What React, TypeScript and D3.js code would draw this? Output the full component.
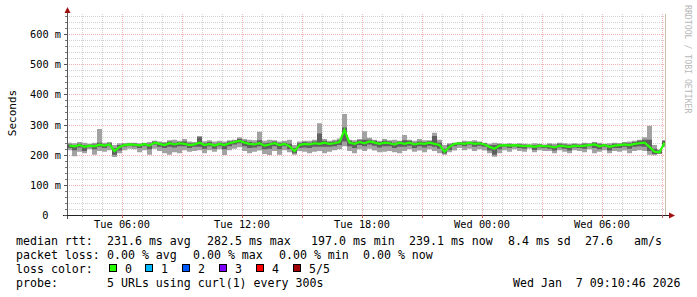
import React from 'react';
import * as d3 from 'd3';

// ---- data (15-minute steps from Tue 03:15) ----
const startTime = new Date(2026, 0, 6, 3, 15);
const endTime = new Date(2026, 0, 7, 9, 9);
const stepMinutes = 15;

const medianRtt = [
  230, 228, 232, 226, 230, 228, 233, 230, 234, 212, 226, 232, 234, 233, 231, 235, 230, 240, 236, 232,
  238, 234, 238, 236, 232, 234, 240, 232, 236, 230, 236, 232, 238, 242, 246, 240, 236, 234, 238, 230,
  234, 238, 232, 236, 228, 212, 232, 236, 234, 238, 236, 240, 236, 238, 242, 282, 240, 236, 242, 238,
  244, 240, 236, 240, 238, 234, 240, 236, 240, 234, 238, 236, 240, 236, 232, 210, 226, 236, 238, 236,
  240, 236, 238, 234, 226, 220, 230, 232, 230, 232, 230, 228, 230, 226, 230, 228, 228, 224, 230, 228,
  226, 230, 228, 230, 232, 234, 228, 232, 226, 230, 232, 234, 232, 236, 238, 240, 226, 210, 208, 240,
];
const minRtt = [
  215, 195, 210, 205, 218, 200, 212, 210, 215, 192, 205, 215, 220, 218, 208, 215, 200, 220, 212, 205,
  200, 208, 205, 215, 210, 212, 215, 205, 215, 210, 218, 199, 215, 220, 225, 212, 205, 210, 214, 202,
  199, 212, 200, 215, 208, 200, 212, 210, 205, 210, 212, 205, 210, 215, 218, 228, 212, 205, 218, 212,
  220, 214, 208, 210, 212, 208, 205, 212, 218, 210, 214, 208, 218, 212, 205, 200, 208, 214, 222, 215,
  220, 212, 218, 214, 205, 193, 205, 215, 210, 218, 212, 210, 220, 208, 215, 212, 212, 205, 215, 210,
  205, 215, 212, 208, 218, 205, 210, 215, 205, 212, 210, 214, 205, 212, 215, 212, 200, 198, 202, 225,
];
const maxRtt = [
  240, 238, 242, 240, 236, 240, 285, 240, 242, 232, 238, 238, 240, 240, 238, 240, 242, 246, 244, 242,
  248, 250, 246, 252, 244, 242, 262, 245, 248, 244, 246, 244, 248, 250, 258, 252, 250, 248, 276, 246,
  250, 248, 244, 246, 250, 232, 244, 246, 246, 250, 304, 252, 246, 250, 254, 335, 250, 248, 252, 278,
  256, 250, 246, 252, 248, 250, 246, 265, 250, 246, 252, 248, 248, 273, 250, 232, 238, 240, 242, 246,
  244, 248, 244, 240, 236, 240, 238, 236, 238, 236, 238, 236, 234, 238, 236, 234, 238, 236, 240, 238,
  236, 238, 236, 240, 238, 242, 240, 236, 238, 240, 238, 242, 244, 246, 250, 258, 296, 232, 218, 248,
];
const innerLow = [
  222, 215, 224, 212, 225, 218, 226, 222, 228, 200, 214, 226, 230, 227, 222, 228, 218, 234, 226, 222,
  226, 224, 228, 228, 222, 226, 226, 220, 228, 220, 228, 218, 228, 234, 238, 228, 222, 224, 228, 218,
  220, 228, 218, 228, 218, 205, 222, 224, 222, 226, 226, 226, 226, 228, 232, 244, 228, 222, 232, 228,
  234, 230, 224, 228, 228, 222, 226, 226, 230, 222, 228, 224, 230, 226, 220, 204, 216, 228, 232, 228,
  234, 226, 230, 226, 214, 200, 218, 226, 222, 227, 222, 220, 226, 216, 224, 222, 220, 214, 224, 220,
  214, 224, 222, 220, 228, 222, 218, 226, 214, 222, 222, 226, 220, 226, 228, 226, 212, 202, 204, 232,
];
const innerHigh = [
  234, 232, 236, 232, 233, 234, 240, 235, 238, 222, 232, 236, 237, 237, 235, 238, 236, 244, 240, 238,
  244, 240, 242, 244, 238, 238, 258, 238, 242, 236, 240, 238, 244, 246, 252, 246, 242, 240, 248, 238,
  240, 244, 238, 240, 236, 222, 238, 242, 240, 244, 270, 246, 242, 244, 248, 290, 246, 242, 248, 250,
  250, 246, 242, 246, 244, 240, 244, 248, 246, 240, 244, 242, 245, 262, 240, 220, 234, 239, 241, 241,
  243, 242, 242, 238, 232, 232, 235, 235, 235, 235, 235, 233, 233, 232, 234, 232, 234, 230, 236, 234,
  232, 235, 233, 236, 236, 240, 235, 235, 232, 236, 236, 240, 238, 242, 246, 250, 250, 220, 214, 246,
];

const yTicks = [0, 100, 200, 300, 400, 500, 600];
const xTickTimes = [
  new Date(2026, 0, 6, 6), new Date(2026, 0, 6, 12), new Date(2026, 0, 6, 18),
  new Date(2026, 0, 7, 0), new Date(2026, 0, 7, 6),
];
const lossColors = ['#26ff00', '#00b8ff', '#0059ff', '#7e00ff', '#ff0000', '#a10000'];
const lossLabels = ['0', '1', '2', '3', '4', '5/5'];

const W = 697;
const H = 297;
const MONO = '"DejaVu Sans Mono", monospace';

type Pt = { t: Date; med: number; lo: number; hi: number; ilo: number; ihi: number };

export default function App() {
  const x = d3.scaleTime().domain([startTime, endTime]).range([67, 665]);
  const y = d3.scaleLinear().domain([0, 666.7]).range([215, 14]);

  const pts: Pt[] = medianRtt.map((m, i) => ({
    t: d3.timeMinute.offset(startTime, i * stepMinutes),
    med: m,
    lo: minRtt[i],
    hi: maxRtt[i],
    ilo: innerLow[i],
    ihi: innerHigh[i],
  }));
  const last = pts[pts.length - 1];
  const stepPts = [...pts, { ...last, t: endTime }];

  const outerArea = d3.area<Pt>().x(d => x(d.t)).y0(d => y(d.lo)).y1(d => y(d.hi)).curve(d3.curveStepAfter);
  const innerArea = d3.area<Pt>().x(d => x(d.t)).y0(d => y(d.ilo)).y1(d => y(d.ihi)).curve(d3.curveStepAfter);
  const medLine = d3.line<Pt>().x(d => x(d.t) + 2.5).y(d => y(d.med));

  const px = (v: number) => Math.round(v) + 0.5;

  const minorY = d3.range(20, 661, 20).filter(v => v % 100 !== 0);
  const majorY = d3.range(100, 661, 100);
  const hours = d3.timeHour.range(d3.timeHour.ceil(startTime), endTime);
  const minorX = hours.filter(h => h.getHours() % 3 !== 0);
  const majorX = hours.filter(h => h.getHours() % 3 === 0);
  const fmt = d3.timeFormat('%a %H:%M');

  const gridTop = 14;
  const gridBottom = 215;

  const legendY = [244.5, 258.5, 272.5, 286.5];
  const lfs = 11.6;
  const T = (props: any) => <text xmlSpace="preserve" {...props} />;

  return (
    <svg width={W} height={H} style={{ position: 'absolute', left: 0, top: 0, background: '#fff' }}
      fontFamily={MONO}>
      <rect x={0} y={0} width={W} height={H} fill="#ffffff" />
      {/* minor grid */}
      {minorY.map(v => (
        <line key={'my' + v} x1={67} x2={665} y1={px(y(v))} y2={px(y(v))}
          stroke="#d2d2d2" strokeDasharray="1,1" />
      ))}
      {minorX.map(h => (
        <line key={'mx' + h.getTime()} x1={px(x(h))} x2={px(x(h))} y1={gridTop} y2={gridBottom}
          stroke="#d2d2d2" strokeDasharray="1,1" />
      ))}
      {/* major grid */}
      {majorY.map(v => (
        <line key={'My' + v} x1={67} x2={665} y1={px(y(v))} y2={px(y(v))}
          stroke="#f3b0b0" strokeDasharray="1,1" />
      ))}
      {majorX.map(h => (
        <line key={'Mx' + h.getTime()} x1={px(x(h))} x2={px(x(h))} y1={gridTop} y2={gridBottom}
          stroke="#f3b0b0" strokeDasharray="1,1" />
      ))}

      {/* smoke */}
      <path d={outerArea(stepPts) || ''} fill="#a2a2a2" />
      <path d={innerArea(stepPts) || ''} fill="#606060" />
      {/* median */}
      <path d={medLine(pts) || ''} fill="none" stroke={lossColors[0]} strokeWidth={2.2} />

      {/* right edge rule */}
      <line x1={665.5} x2={665.5} y1={14} y2={215} stroke="#cbbca6" />

      {/* axes */}
      <line x1={67.5} x2={67.5} y1={11} y2={219} stroke="#555" />
      <line x1={63} x2={670} y1={215.5} y2={215.5} stroke="#222" />
      {majorY.concat([0]).map(v => (
        <line key={'ty' + v} x1={64} x2={67} y1={px(y(v))} y2={px(y(v))} stroke="#555" />
      ))}
      {minorY.map(v => (
        <line key={'tmy' + v} x1={65} x2={67} y1={px(y(v))} y2={px(y(v))} stroke="#777" />
      ))}
      {majorX.map(h => (
        <line key={'tx' + h.getTime()} x1={px(x(h))} x2={px(x(h))} y1={215} y2={218} stroke="#c06060" />
      ))}
      {minorX.map(h => (
        <line key={'tmx' + h.getTime()} x1={px(x(h))} x2={px(x(h))} y1={215} y2={217} stroke="#777" />
      ))}
      <path d="M64.5,13 L70.5,13 L67.5,7 Z" fill="#a01010" />
      <path d="M669,212.5 L669,218.5 L675,215.5 Z" fill="#a01010" />

      {/* y labels */}
      {yTicks.map(v => (
        <text key={'yl' + v} x={v === 0 ? 48.5 : 61} y={px(y(v)) + 3.5} fontSize={10.3} textAnchor="end"
          fill="#000">{v === 0 ? '0' : `${v} m`}</text>
      ))}
      {/* x labels */}
      {xTickTimes.map(t => (
        <text key={'xl' + t.getTime()} x={x(t)} y={228} fontSize={10.3} textAnchor="middle" fill="#000">
          {fmt(t)}
        </text>
      ))}

      {/* axis title */}
      <text transform="translate(15.5,113) rotate(-90)" fontSize={11} textAnchor="middle" fill="#000">Seconds</text>
      {/* watermark */}
      <text transform="translate(684.5,5) rotate(90)" fontSize={8.2} fill="#b8b8b8">RRDTOOL / TOBI OETIKER</text>

      {/* legend */}
      <g fontSize={lfs} fill="#000">
        <T x={16} y={legendY[0]}>median rtt:</T>
        <T x={107} y={legendY[0]}>231.6 ms avg</T>
        <T x={207} y={legendY[0]}>282.5 ms max</T>
        <T x={311} y={legendY[0]}>197.0 ms min</T>
        <T x={409} y={legendY[0]}>239.1 ms now</T>
        <T x={508} y={legendY[0]}>8.4 ms sd</T>
        <T x={585} y={legendY[0]}>27.6</T>
        <T x={634} y={legendY[0]}>am/s</T>

        <T x={16} y={legendY[1]}>packet loss:</T>
        <T x={107} y={legendY[1]}>0.00 % avg</T>
        <T x={193} y={legendY[1]}>0.00 % max</T>
        <T x={279} y={legendY[1]}>0.00 % min</T>
        <T x={363} y={legendY[1]}>0.00 % now</T>

        <T x={16} y={legendY[2]}>loss color:</T>
        {lossColors.map((c, i) => {
          const bx = 108.5 + i * 36.8;
          return (
            <g key={'lc' + i}>
              <rect x={Math.round(bx) + 0.5} y={264.5} width={7} height={7} fill={c} stroke="#000" />
              <T x={Math.round(bx) + 16} y={legendY[2]}>{lossLabels[i]}</T>
            </g>
          );
        })}

        <T x={16} y={legendY[3]}>probe:</T>
        <T x={107} y={legendY[3]}>5 URLs using curl(1) every 300s</T>
        <T x={513} y={legendY[3]}>Wed Jan  7 09:10:46 2026</T>
      </g>
    </svg>
  );
}
